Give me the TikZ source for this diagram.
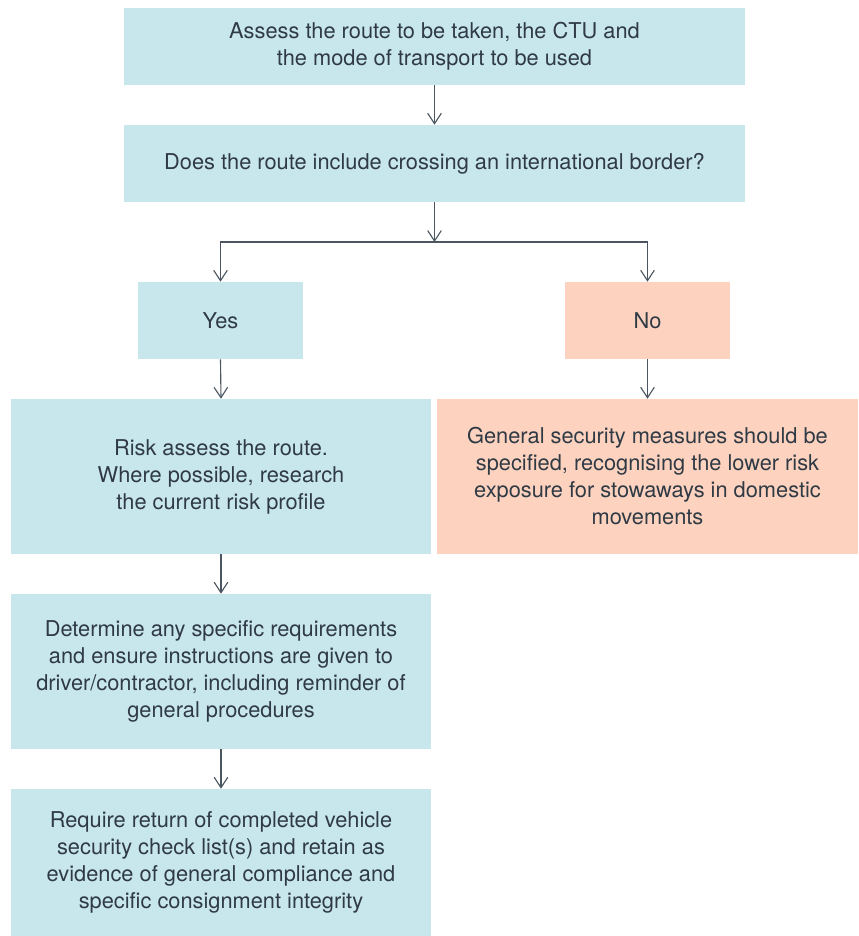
\documentclass[tikz,border=0pt]{standalone}
\usepackage{fontspec}
\setmainfont{TeX Gyre Heros}
\usetikzlibrary{positioning, arrows.meta, calc}
\definecolor{boxblue}{HTML}{C8E7EC}
\definecolor{boxpeach}{HTML}{FDD3BF}
\definecolor{inkgrey}{HTML}{2F3A45}
\definecolor{linegrey}{HTML}{4B5660}
\tikzset{
  stepbox/.style = {rectangle, inner sep = 0pt, align = center, text = inkgrey, font = \fontsize{15.5}{19.2}\selectfont},
  bluebox/.style = {stepbox, fill = boxblue},
  peachbox/.style = {stepbox, fill = boxpeach},
  flowline/.style = {draw = linegrey, line width = 0.8pt, -{Straight Barb[length = 2.6mm, width = 3.4mm, line width = 0.8pt]}}
}
\begin{document}
\begin{tikzpicture}[x = 0.025cm, y = -0.025cm]
%PICTURE SCOPE
\useasboundingbox (0, 0) rectangle (858, 936);
%%TOP BOXES
\node at (434.5, 46.5) (assess) [bluebox, minimum width = 15.525cm, minimum height = 1.925cm] {Assess the route to be taken, the CTU and \\ the mode of transport to be used};
\node at (434.5, 163.5) (border) [bluebox, minimum width = 15.525cm, minimum height = 1.925cm] {Does the route include crossing an international border?};
%%ANSWERS
\node at (220.5, 320.5) (yes) [bluebox, minimum width = 4.125cm, minimum height = 1.925cm] {Yes};
\node at (647.5, 320.5) (no) [peachbox, minimum width = 4.125cm, minimum height = 1.925cm] {No};
%%YES BRANCH
\node at (221, 476.5) (risk) [bluebox, minimum width = 10.5cm, minimum height = 3.875cm] {Risk assess the route. \\ Where possible, research \\ the current risk profile};
\node at (221, 671.5) (determine) [bluebox, minimum width = 10.5cm, minimum height = 3.875cm] {Determine any specific requirements \\ and ensure instructions are given to \\ driver/contractor, including reminder of \\ general procedures};
\node at (221, 862.5) (require) [bluebox, minimum width = 10.5cm, minimum height = 3.675cm] {Require return of completed vehicle \\ security check list(s) and retain as \\ evidence of general compliance and \\ specific consignment integrity};
%%NO BRANCH
\node at (647.5, 476.5) (general) [peachbox, minimum width = 10.5cm, minimum height = 3.875cm] {General security measures should be \\ specified, recognising the lower risk \\ exposure for stowaways in domestic \\ movements};
%%CONNECTIONS
\coordinate (split) at (434.5, 242);
\draw [flowline] (assess.south) -- (border.north);
\draw [flowline] (border.south) -- (split);
\draw [flowline] (split) -| (yes.north);
\draw [flowline] (split) -| (no.north);
\draw [flowline] (yes.south) -- (risk.north);
\draw [flowline] (no.south) -- (general.north);
\draw [flowline] (risk.south) -- (determine.north);
\draw [flowline] (determine.south) -- (require.north);
\end{tikzpicture}
\end{document}
